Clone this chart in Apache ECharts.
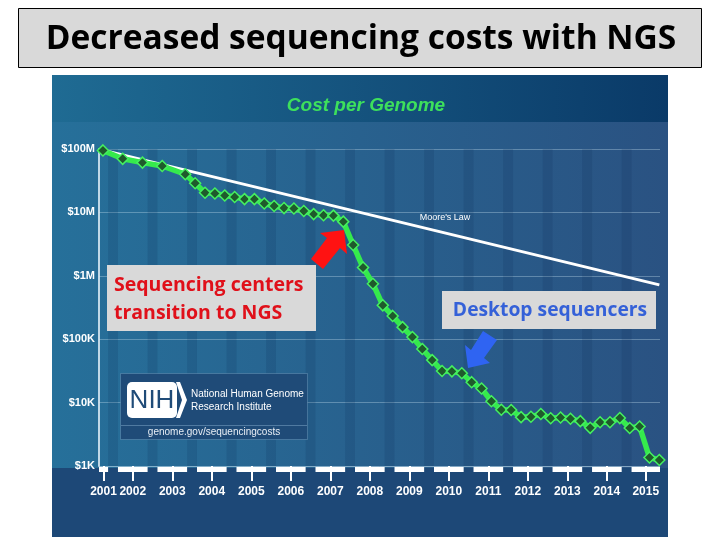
<!DOCTYPE html>
<html><head><meta charset="utf-8">
<script src="https://cdn.jsdelivr.net/npm/echarts@6/dist/echarts.min.js"></script>
<style>html,body{margin:0;padding:0;background:#fff}#c{width:720px;height:540px}</style>
</head><body><div id="c"></div>
<script>
// ---- data ----
const months = ['2001-09','2002-03','2002-09','2003-03','2003-10','2004-01','2004-04','2004-07','2004-10',
 '2005-01','2005-04','2005-07','2005-10','2006-01','2006-04','2006-07','2006-10','2007-01','2007-04','2007-07','2007-10',
 '2008-01','2008-04','2008-07','2008-10','2009-01','2009-04','2009-07','2009-10','2010-01','2010-04','2010-07','2010-10',
 '2011-01','2011-04','2011-07','2011-10','2012-01','2012-04','2012-07','2012-10','2013-01','2013-04','2013-07','2013-10',
 '2014-01','2014-04','2014-07','2014-10','2015-01','2015-04','2015-07','2015-10'];
const costPerGenome = [95000000,70000000,61000000,54000000,40000000,28800000,20400000,19900000,18500000,
 17500000,16200000,16200000,13800000,12600000,11700000,11500000,10500000,9400000,9000000,8900000,7150000,
 3060000,1350000,750000,342000,233000,155000,108000,70000,46800,31500,31100,29100,
 21000,16700,10500,7700,7650,5900,5990,6600,5670,5830,5550,5100,
 4000,4900,4900,5700,3970,4200,1360,1245];
const mooreMonths = ['2001-09','2015-10'];
const mooreLaw = [96000000, 720000];
const yearLabels = [2001,2002,2003,2004,2005,2006,2007,2008,2009,2010,2011,2012,2013,2014,2015];
const yTickLabels = ['$1K','$10K','$100K','$1M','$10M','$100M'];
const slideTitle = 'Decreased sequencing costs with NGS';
const chartTitle = 'Cost per Genome';
const mooreLabel = "Moore's Law";
const note1 = ['Sequencing centers','transition to NGS'];
const note2 = 'Desktop sequencers';
const nihLines = ['National Human Genome','Research Institute'];
const nihUrl = 'genome.gov/sequencingcosts';

// ---- helpers ----
const toYear = s => { const p = s.split('-').map(Number); return p[0] + p[1] / 12; };
const X_MIN = 2001.65, X_MAX = 2015.85;
const clampX = v => Math.max(X_MIN, Math.min(X_MAX, v));
const yearBars = yearLabels.map(y => [clampX(y + 0.13), clampX(y + 0.88)]);
const yearTicks = yearBars.map(b => (b[0] + b[1]) / 2);
const stripes = yearLabels.slice(1).map(y => [clampX(y - 0.12), clampX(y + 0.13)]);

const chart = echarts.init(document.getElementById('c'), null, {renderer: 'canvas'});
const F = 'Liberation Sans, Arial, sans-serif';

const option = {
  animation: false,
  backgroundColor: '#ffffff',
  grid: {left: 99, right: 60, top: 149, bottom: 74},
  xAxis: {
    type: 'value', min: X_MIN, max: X_MAX,
    axisLine: {show: false},
    splitLine: {show: false},
    axisTick: {show: true, customValues: yearTicks, length: 15, lineStyle: {color: '#ffffff', width: 2}},
    axisLabel: {customValues: yearTicks, formatter: v => String(Math.floor(v + 1e-6)), color: '#ffffff',
      fontFamily: F, fontWeight: 'bold', fontSize: 12, margin: 20}
  },
  yAxis: {
    type: 'log', logBase: 10, min: 1000, max: 100000000,
    axisLine: {show: true, lineStyle: {color: 'rgba(220,235,245,0.85)', width: 2}},
    axisTick: {show: false},
    splitLine: {show: true, lineStyle: {color: 'rgba(200,225,240,0.35)', width: 1}},
    axisLabel: {formatter: v => yTickLabels[Math.round(Math.log10(v)) - 3], color: '#ffffff',
      fontFamily: F, fontWeight: 'bold', fontSize: 11, margin: 4}
  },
  graphic: [
    // slide title
    {type: 'rect', z: -10, shape: {x: 18.5, y: 8.5, width: 683, height: 59}, style: {fill: '#d9d9d9', stroke: '#000', lineWidth: 1}},
    {type: 'text', z: -9, x: 361, y: 39, style: {text: slideTitle, fill: '#000', font: 'bold 33.5px "Open Sans"', align: 'center', verticalAlign: 'middle'}},
    // chart background
    {type: 'rect', z: -10, shape: {x: 52, y: 75, width: 616, height: 47},
      style: {fill: new echarts.graphic.LinearGradient(0, 0, 1, 0, [{offset: 0, color: '#1f6b93'}, {offset: 1, color: '#0a3a68'}])}},
    {type: 'rect', z: -10, shape: {x: 52, y: 122, width: 616, height: 346},
      style: {fill: new echarts.graphic.LinearGradient(0, 0, 1, 0, [{offset: 0, color: '#26709a'}, {offset: 1, color: '#2a5282'}])}},
    {type: 'rect', z: -10, shape: {x: 52, y: 468, width: 616, height: 69}, style: {fill: '#1d4877'}},
    {type: 'text', z: -9, x: 366, y: 106, style: {text: chartTitle, fill: '#3de05c', font: 'italic bold 19px ' + F, align: 'center', verticalAlign: 'middle'}},
    {type: 'text', z: 50, x: 445, y: 218, style: {text: mooreLabel, fill: '#ffffff', font: '9px ' + F, align: 'center', verticalAlign: 'middle'}},
    // NIH box
    {type: 'rect', z: 40, shape: {x: 120.5, y: 373.5, width: 187, height: 66}, style: {fill: '#1f4b78', stroke: 'rgba(140,180,210,0.35)', lineWidth: 1}},
    {type: 'line', z: 41, shape: {x1: 121, y1: 425.5, x2: 307, y2: 425.5}, style: {stroke: 'rgba(140,180,210,0.45)', lineWidth: 1}},
    {type: 'rect', z: 41, shape: {x: 127, y: 382, width: 50, height: 36, r: 5}, style: {fill: '#ffffff'}},
    {type: 'polygon', z: 41, shape: {points: [[176,382],[180,382],[187,400],[180,418],[176,418],[182,400]]}, style: {fill: '#ffffff'}},
    {type: 'text', z: 42, x: 152, y: 401, style: {text: 'NIH', fill: '#1f4b78', font: '26px ' + F, align: 'center', verticalAlign: 'middle'}},
    {type: 'text', z: 42, x: 191, y: 394, style: {text: nihLines[0], fill: '#ffffff', font: '10px ' + F, verticalAlign: 'middle'}},
    {type: 'text', z: 42, x: 191, y: 407, style: {text: nihLines[1], fill: '#ffffff', font: '10px ' + F, verticalAlign: 'middle'}},
    {type: 'text', z: 42, x: 214, y: 432, style: {text: nihUrl, fill: '#e8eef5', font: '10px ' + F, align: 'center', verticalAlign: 'middle'}},
    // annotation 1
    {type: 'rect', z: 60, shape: {x: 107, y: 265, width: 209, height: 66}, style: {fill: '#d9d9d9'}},
    {type: 'text', z: 61, x: 114, y: 285, style: {text: note1[0], fill: '#e0101a', font: 'bold 19.5px "Open Sans"', verticalAlign: 'middle'}},
    {type: 'text', z: 61, x: 114, y: 313, style: {text: note1[1], fill: '#e0101a', font: 'bold 19.5px "Open Sans"', verticalAlign: 'middle'}},
    {type: 'polygon', z: 61, shape: {points: [[323,269],[340,248],[347,254],[344,230],[320,233],[327,238],[311,259]]}, style: {fill: '#ff1212'}},
    // annotation 2
    {type: 'rect', z: 60, shape: {x: 442, y: 291, width: 214, height: 38}, style: {fill: '#d9d9d9'}},
    {type: 'text', z: 61, x: 550, y: 311, style: {text: note2, fill: '#3561d8', font: 'bold 19.3px "Open Sans"', align: 'center', verticalAlign: 'middle'}},
    {type: 'polygon', z: 61, shape: {points: [[497,340],[484,358],[490,363],[468,368],[465,345],[471,350],[483,331]]}, style: {fill: '#2f64f2'}}
  ],
  series: [
    {
      type: 'custom', z: 1, silent: true, clip: false,
      data: stripes,
      encode: {x: [0, 1]},
      renderItem: (params, api) => {
        const a = api.coord([api.value(0), 100000000]);
        const b = api.coord([api.value(1), 1000]);
        return {type: 'rect', shape: {x: a[0], y: a[1], width: b[0] - a[0], height: b[1] - a[1]}, style: {fill: 'rgba(15,45,85,0.16)'}};
      }
    },
    {
      type: 'custom', z: 3, silent: true, clip: false,
      data: yearBars,
      encode: {x: [0, 1]},
      renderItem: (params, api) => {
        const a = api.coord([api.value(0), 1000]);
        const b = api.coord([api.value(1), 1000]);
        return {type: 'rect', shape: {x: a[0], y: a[1] + 1, width: b[0] - a[0], height: 5}, style: {fill: '#ffffff'}};
      }
    },
    {
      type: 'line', z: 4, silent: true,
      data: mooreMonths.map((m, i) => [toYear(m), mooreLaw[i]]),
      symbol: 'none',
      lineStyle: {color: '#ffffff', width: 3}
    },
    {
      type: 'line', z: 5, silent: true,
      data: months.map((m, i) => [toYear(m), costPerGenome[i]]),
      symbol: 'diamond', symbolSize: 11,
      itemStyle: {color: '#1f5a2c', borderColor: '#45f060', borderWidth: 1.5},
      lineStyle: {color: '#35ea4c', width: 5.5}
    }
  ]
};
chart.setOption(option);
</script></body></html>
